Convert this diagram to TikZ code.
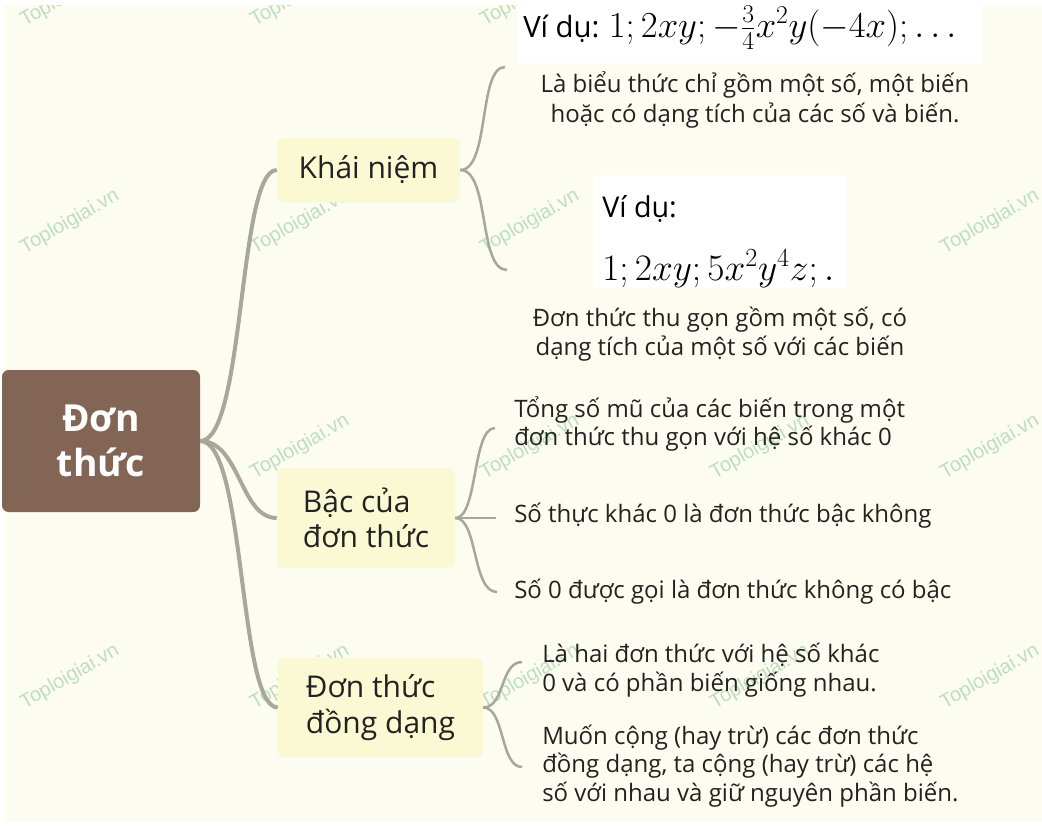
\RequirePackage{fix-cm}
\documentclass[tikz,border=0pt]{standalone}
\usepackage{fontspec}
\setmainfont{Open Sans}
\newfontfamily\wmfont{Liberation Sans}
\definecolor{bgcream}{HTML}{FCFCF1}
\definecolor{boxyellow}{HTML}{FAF9D3}
\definecolor{rootbrown}{HTML}{826555}
\definecolor{linkgrey}{HTML}{A7A897}
\definecolor{wmgreen}{HTML}{BEDFBE}
\definecolor{ink}{HTML}{222222}
\tikzset{
  rootbox/.style={fill=rootbrown, rounded corners=5pt, text=white, align=center,
    font=\fontsize{28}{34}\selectfont\bfseries, inner sep=0pt},
  branchbox/.style={fill=boxyellow, rounded corners=4pt, text=ink, align=left,
    font=\fontsize{22.5}{26.5}\selectfont, inner sep=0pt},
  leaftext/.style={text=ink, font=\fontsize{18}{21.5}\selectfont, inner sep=0pt},
  examplebox/.style={fill=white, inner sep=0pt},
  exampletext/.style={text=black, inner sep=0pt, anchor=base west},
  rootlink/.style={draw=linkgrey, line width=3pt},
  leaflink/.style={draw=linkgrey, line width=1.9pt},
  watermark/.style={text=wmgreen, font=\wmfont\fontsize{15}{15}\selectfont, rotate=30, inner sep=0pt}
}
\begin{document}
\begin{tikzpicture}[x=0.75pt,y=-0.75pt]
\useasboundingbox (0,0) rectangle (1042,825);
\fill[white] (0,0) rectangle (1042,825);
\fill[bgcream] (4,5) rectangle (1042,822);
% watermarks
\begin{scope}
\clip (4,5) rectangle (1042,822);
\foreach \wx in {70,300,530,760,990}{
  \foreach \wy in {-5,222,447,677}{
    \node[watermark] (wm-\wx-\wy) at (\wx,\wy) {Toploigiai.vn};
  }
}
\end{scope}
% coordinates for leaf connector ends
\coordinate (k1) at (505,67);
\coordinate (k2) at (507,270);
\coordinate (b1) at (495,428);
\coordinate (b2) at (496,518);
\coordinate (b3) at (497,592);
\coordinate (d1) at (522,662);
\coordinate (d2) at (522,767);
% nodes
\node[rootbox, minimum width=198*0.75pt, minimum height=142*0.75pt] (root) at (101,441) {Đơn\\thức};
\node[branchbox, minimum width=183*0.75pt, minimum height=64*0.75pt] (K) at (368.5,170) {Khái niệm};
\node[branchbox, minimum width=178*0.75pt, minimum height=100*0.75pt] (B) at (366,518) {Bậc của\\đơn thức};
\node[branchbox, minimum width=205*0.75pt, minimum height=99*0.75pt] (D) at (380.5,707.5) {Đơn thức\\đồng dạng};
% root connectors
\draw[rootlink] (root.east) .. controls (245,441) and (238,170) .. (K.west);
\draw[rootlink] (root.east) .. controls (240,441) and (240,518) .. (B.west);
\draw[rootlink] (root.east) .. controls (246,441) and (238,707.5) .. (D.west);
% leaf connectors
\draw[leaflink] (K.east) .. controls (490,170) and (478,67) .. (k1);
\draw[leaflink] (K.east) .. controls (490,170) and (478,270) .. (k2);
\draw[leaflink] (B.east) .. controls (478,518) and (472,428) .. (b1);
\draw[leaflink] (B.east) -- (b2);
\draw[leaflink] (B.east) .. controls (478,518) and (472,592) .. (b3);
\draw[leaflink] (D.east) .. controls (505,707.5) and (500,662) .. (d1);
\draw[leaflink] (D.east) .. controls (505,707.5) and (500,767) .. (d2);
% examples
\node[examplebox, anchor=north west, minimum width=466*0.75pt, minimum height=63*0.75pt] (ex1) at (517,0) {};
\node[exampletext] (ex1text) at (523,37)
  {{\fontsize{22}{26}\selectfont Ví dụ:}\hspace{7pt}{\fontsize{27.5}{32}\selectfont$1;2xy;-\frac{3}{4}x^2y(-4x);\ldots$}};
\node[examplebox, anchor=north west, minimum width=254*0.75pt, minimum height=113*0.75pt] (ex2) at (593,175) {};
\node[exampletext, font=\fontsize{21.5}{26}\selectfont] (ex2label) at (602,217) {Ví dụ:};
\node[exampletext, font=\fontsize{28}{32}\selectfont] (ex2math) at (602,280) {$1;2xy;5x^2y^4z;.$};
% leaf texts
\node[leaftext, align=center, font=\fontsize{18}{22.5}\selectfont] (kdef) at (755,100) {Là biểu thức chỉ gồm một số, một biến\\hoặc có dạng tích của các số và biến.};
\node[leaftext, align=center] (kthu) at (720,334) {Đơn thức thu gọn gồm một số, có\\dạng tích của một số với các biến};
\node[leaftext, align=left, anchor=west] (bt1) at (514,424) {Tổng số mũ của các biến trong một\\đơn thức thu gọn với hệ số khác 0};
\node[leaftext, align=left, anchor=west] (bt2) at (514,516) {Số thực khác 0 là đơn thức bậc không};
\node[leaftext, align=left, anchor=west] (bt3) at (514,592) {Số 0 được gọi là đơn thức không có bậc};
\node[leaftext, align=left, anchor=west] (dt1) at (542,670) {Là hai đơn thức với hệ số khác\\0 và có phần biến giống nhau.};
\node[leaftext, align=left, anchor=west] (dt2) at (542,766) {Muốn cộng (hay trừ) các đơn thức\\đồng dạng, ta cộng (hay trừ) các hệ\\số với nhau và giữ nguyên phần biến.};
\end{tikzpicture}
\end{document}
